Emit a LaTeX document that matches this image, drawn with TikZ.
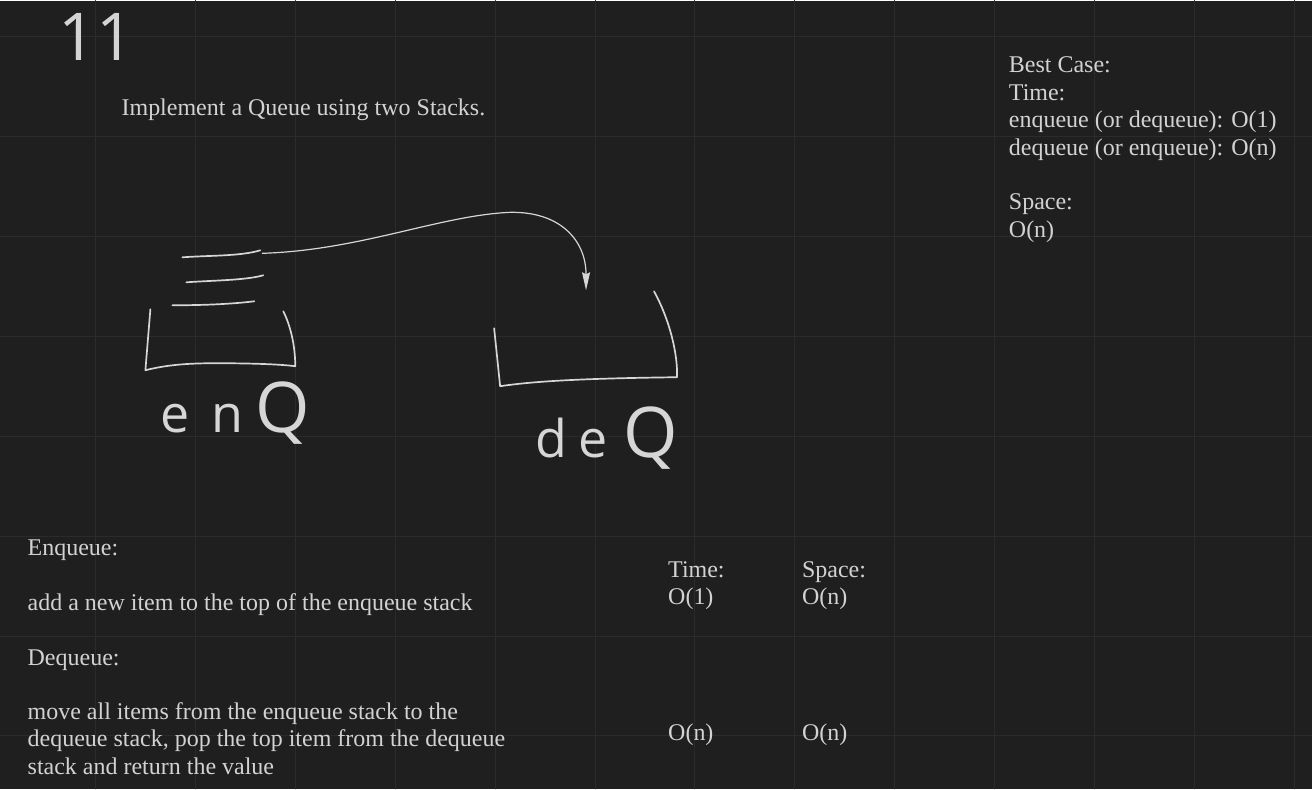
\documentclass[tikz,border=0pt]{standalone}
\usepackage{fontspec}
\setmainfont{Liberation Serif}
\newfontfamily\thinfont{Open Sans}
\usepackage{tikz}
\usetikzlibrary{arrows.meta,positioning}

\definecolor{boardbg}{HTML}{1F1F1F}
\definecolor{gridcol}{HTML}{2B2B2B}
\definecolor{inkcol}{HTML}{D6D6D6}
\definecolor{txtcol}{HTML}{D2D2D2}

\newcommand{\bigQ}{{\fontsize{70}{70}\selectfont Q}}

\begin{document}
\begin{tikzpicture}[x=1pt,y=-1pt,>={Stealth[length=18pt,width=8pt,inset=2pt]},
        line cap=round,line join=round]
        \tikzstyle{gridline}=[draw=gridcol,line width=1pt]
        \tikzstyle{ink}=[draw=inkcol,line width=1.7pt]
        \tikzstyle{note}=[text=txtcol,inner sep=0pt,anchor=base west,
            font=\fontsize{24}{27.5}\selectfont]
        \tikzstyle{hand}=[text=inkcol,inner sep=0pt,anchor=base west,
            font=\thinfont\fontsize{52}{52}\selectfont]

        % board
        \fill[boardbg] (0,0) rectangle (1312,789);
        \foreach \x in {95,195,...,1295}
            \draw[gridline] (\x,0) -- (\x,789);
        \foreach \y in {36,136,...,736}
            \draw[gridline] (0,\y) -- (1312,\y);

        % title
        \node[text=txtcol!95!white,inner sep=0pt,anchor=base west,
            font=\thinfont\fontsize{66}{66}\selectfont] (num) at (58,60) {11};
        \node[note] (task) at (121,115) {Implement a Queue using two Stacks.};

        % best case
        \foreach \t/\yy [count=\i] in {Best Case:/72, Time:/100,
                enqueue (or dequeue): O(1)/127, dequeue (or enqueue): O(n)/155,
                Space:/209, O(n)/237}
            \node[note] (best\i) at (1009,\yy) {\t};

        % enqueue stack
        \draw[ink] (150,309) -- (145,370) .. controls (165,365) and (185,363) .. (215,363)
            .. controls (250,363) and (280,364) .. (295,366)
            .. controls (295,345) and (290,325) .. (283,311);
        \draw[ink] (182,257) .. controls (210,255) and (240,256) .. (260,250);
        \draw[ink] (186,282) .. controls (215,280) and (245,280) .. (263,275);
        \draw[ink] (172,305) .. controls (200,305) and (230,304) .. (254,301);
        \coordinate (qtop) at (262,253);
        \node[hand] (enq) at (160,432) {e\hspace{22pt}n\hspace{12pt}\bigQ};

        % dequeue stack
        \draw[ink] (494,328) -- (500,386) .. controls (540,380) and (600,378) .. (677,377)
            .. controls (678,355) and (670,320) .. (654,291);
        \coordinate (qin) at (586,290);
        \node[hand] (deq) at (535,457) {d\hspace{11pt}e\hspace{16pt}\bigQ};

        % transfer
        \draw[ink,line width=1.2pt,->] (qtop) .. controls (360,250) and (440,215) .. (510,212)
            .. controls (560,211) and (586,240) .. (qin);

        % operations
        \node[note] (enqhd) at (27,555) {Enqueue:};
        \node[note] (enqtx) at (27,610) {add a new item to the top of the enqueue stack};
        \node[note] (deqhd) at (27,665) {Dequeue:};
        \foreach \t/\yy [count=\i] in {move all items from the enqueue stack to the/720,
                {dequeue stack, pop the top item from the dequeue}/747,
                stack and return the value/775}
            \node[note] (deqtx\i) at (27,\yy) {\t};

        \node[note] (tm1) at (668,577) {Time:};
        \node[note] (tm1v) at (668,604) {O(1)};
        \node[note] (sp1) at (802,577) {Space:};
        \node[note] (sp1v) at (802,604) {O(n)};
        \node[note] (tm2) at (668,741) {O(n)};
        \node[note] (sp2) at (802,741) {O(n)};
    \end{tikzpicture}
\end{document}
